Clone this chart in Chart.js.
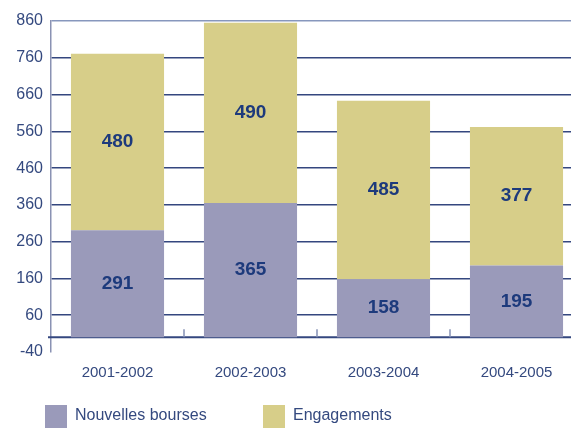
<!DOCTYPE html>
<html>
<head>
<meta charset="utf-8">
<script src="https://cdn.jsdelivr.net/npm/chart.js@4"></script>
<style>
    html, body { margin: 0; padding: 0; background: #ffffff; overflow: hidden; }
    /* le graphique déborde un peu à droite, comme sur l'original */
    #wrap { position: relative; width: 583px; height: 428px; }
</style>
</head>
<body>
<div id="wrap"><canvas id="chart_1"></canvas></div>
<script>
// Données
var annees = ['2001-2002', '2002-2003', '2003-2004', '2004-2005']
var nouvellesBourses = [291, 365, 158, 195]
var engagements = [480, 490, 485, 377]
// Graduations de l'axe vertical
var yMin = -40
var yMax = 860
var yPas = 100

var bleuTexte = '#34497f'
var bleuGrille = '#34477f'

// Ligne du zéro + petits traits entre les catégories
var axeZero = {
    id: 'axeZero',
    beforeDatasetsDraw(chart) {
        let ctx = chart.ctx
        let x = chart.scales.x
        let y = chart.scales.y
        let y0 = y.getPixelForValue(0)
        ctx.save()
        ctx.strokeStyle = bleuGrille
        ctx.lineWidth = 2
        ctx.beginPath()
        ctx.moveTo(chart.chartArea.left - 3, y0)
        ctx.lineTo(chart.chartArea.right, y0)
        ctx.stroke()
        ctx.strokeStyle = '#8590b5'
        ctx.lineWidth = 1.5
        for (let i = 1; i < annees.length; i++) {
            let xs = (x.getPixelForValue(i - 1) + x.getPixelForValue(i)) / 2
            ctx.beginPath()
            ctx.moveTo(xs, y0 - 8)
            ctx.lineTo(xs, y0)
            ctx.stroke()
        }
        ctx.restore()
    }
}

// Valeurs écrites au milieu de chaque segment
var etiquettes = {
    id: 'etiquettes',
    afterDatasetsDraw(chart) {
        let ctx = chart.ctx
        ctx.save()
        ctx.font = 'bold 19px "Liberation Sans", Arial, sans-serif'
        ctx.fillStyle = '#1d3a7c'
        ctx.textAlign = 'center'
        ctx.textBaseline = 'middle'
        chart.data.datasets.forEach((ds, d) => {
            chart.getDatasetMeta(d).data.forEach((bar, i) => {
                let mid = (bar.y + bar.base) / 2
                ctx.fillText(String(ds.data[i]), bar.x, mid)
            })
        })
        ctx.restore()
    }
}

// Légende dessinée à la main en bas
var legende = {
    id: 'legende',
    afterDraw(chart) {
        let ctx = chart.ctx
        let pos = [45, 263]
        ctx.save()
        ctx.font = '16px "Liberation Sans", Arial, sans-serif'
        ctx.textBaseline = 'middle'
        chart.data.datasets.forEach((ds, d) => {
            ctx.fillStyle = ds.backgroundColor
            ctx.fillRect(pos[d], 405, 22, 23)
            ctx.fillStyle = bleuTexte
            ctx.fillText(ds.label, pos[d] + 30, 416)
        })
        ctx.restore()
    }
}

let chart = new Chart(document.getElementById('chart_1').getContext('2d'), {
    type: 'bar',
    data: {
        labels: annees,
        datasets: [{
            label: 'Nouvelles bourses',
            data: nouvellesBourses,
            backgroundColor: '#9a9aba'
        }, {
            label: 'Engagements',
            data: engagements,
            backgroundColor: '#d7ce89'
        }]
    },
    options: {
        responsive: true,
        maintainAspectRatio: false,
        animation: false,
        layout: {
            padding: { top: 21, right: 0, bottom: 0, left: 0 }
        },
        datasets: {
            bar: { categoryPercentage: 0.7, barPercentage: 1 }
        },
        plugins: {
            legend: { display: false },
            tooltip: { enabled: false }
        },
        scales: {
            x: {
                stacked: true,
                grid: { display: false, drawTicks: false },
                border: { display: false },
                ticks: {
                    color: bleuTexte,
                    padding: 12,
                    font: { size: 15, family: '"Liberation Sans", Arial, sans-serif' }
                },
                afterFit(scale) { scale.height = 76 }
            },
            y: {
                stacked: true,
                min: yMin,
                max: yMax,
                grid: {
                    drawTicks: false,
                    lineWidth: 1.5,
                    color: (c) => c.tick && c.tick.value === yMin ? 'rgba(0,0,0,0)' :
                        (c.tick && c.tick.value === yMax ? '#8797bd' : bleuGrille)
                },
                border: { display: true, color: '#8a92b3', width: 1.5 },
                ticks: {
                    stepSize: yPas,
                    color: bleuTexte,
                    padding: 8,
                    font: { size: 16, family: '"Liberation Sans", Arial, sans-serif' }
                },
                afterFit(scale) { scale.width = 51 }
            }
        }
    },
    plugins: [axeZero, etiquettes, legende]
});
</script>
</body>
</html>
